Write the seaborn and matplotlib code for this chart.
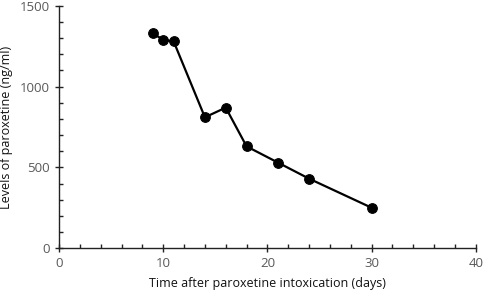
import matplotlib
matplotlib.use("Agg")
import matplotlib.pyplot as plt
import seaborn as sns
import pandas as pd
from matplotlib.ticker import MultipleLocator

days = [9, 10, 11, 14, 16, 18, 21, 24, 30]
levels = [1330, 1290, 1280, 810, 870, 630, 530, 430, 250]
x_ticks = [0, 10, 20, 30, 40]
y_ticks = [0, 500, 1000, 1500]

sns.set_theme(style="white")
plt.rcParams['font.family'] = ['Open Sans', 'DejaVu Sans']

df = pd.DataFrame({"days": days, "levels": levels})

fig = plt.figure(figsize=(4.84, 2.95), dpi=100)
ax = fig.add_axes([0.122, 0.159, 0.861, 0.821])
sns.lineplot(data=df, x="days", y="levels", ax=ax, color="black", linewidth=1.6,
             marker="o", markersize=7, markeredgecolor="black", markerfacecolor="black")

ax.set_xlim(0, 40)
ax.set_ylim(0, 1500)
ax.set_xticks(x_ticks)
ax.set_yticks(y_ticks)
ax.xaxis.set_minor_locator(MultipleLocator(2))
ax.yaxis.set_minor_locator(MultipleLocator(100))
for s in ["top", "right"]:
    ax.spines[s].set_visible(False)
for s in ["left", "bottom"]:
    ax.spines[s].set_color("#222222")
    ax.spines[s].set_linewidth(1.0)
ax.tick_params(which="major", direction="inout", length=6, width=1.0, color="#222222",
               labelsize=9.5, labelcolor="#595959", bottom=True, left=True)
ax.tick_params(which="minor", direction="in", length=3, width=1.0, color="#222222",
               bottom=True, left=True)
ax.set_xlabel("Time after paroxetine intoxication (days)", fontsize=9, color="#111111", labelpad=5)
ax.set_ylabel("Levels of paroxetine (ng/ml)", fontsize=9, color="#111111", labelpad=5)

fig.savefig("out.png", dpi=100)
